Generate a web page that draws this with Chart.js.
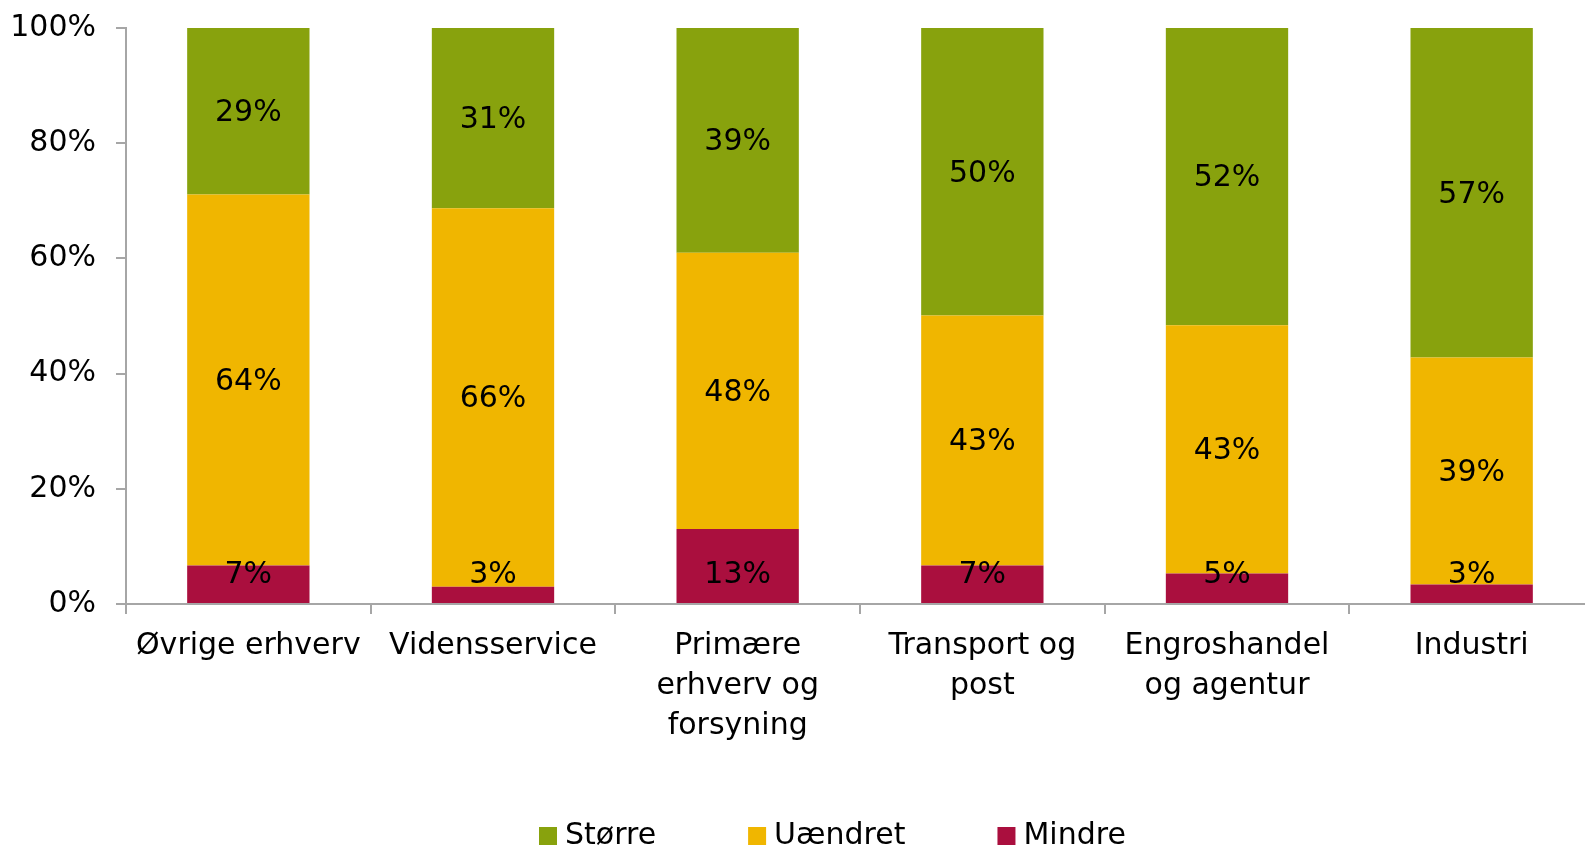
<!DOCTYPE html>
<html>
<head>
<meta charset="utf-8">
<script src="https://cdn.jsdelivr.net/npm/chart.js@4/dist/chart.umd.min.js"></script>
<style>
  html, body { margin: 0; padding: 0; overflow: hidden; background: #fff; }
  #wrap { position: absolute; left: 0; top: 0; width: 1595px; height: 846px; }
</style>
</head>
<body>
<div id="wrap"><canvas id="c"></canvas></div>
<script>
const categories = [
  ['Øvrige erhverv'],
  ['Vidensservice'],
  ['Primære', 'erhverv og', 'forsyning'],
  ['Transport og', 'post'],
  ['Engroshandel', 'og agentur'],
  ['Industri']
];
const mindre   = [6.7, 3.0, 13.0, 6.7, 5.3, 3.4];
const uaendret = [64.4, 65.7, 48.0, 43.4, 43.1, 39.4];
const storre   = [28.9, 31.3, 39.0, 49.9, 51.6, 57.2];
const yTicks = [0, 20, 40, 60, 80, 100];

const seriesNames = ['Mindre', 'Uændret', 'Større'];
const colors = ['#AA0F3E', '#F0B600', '#88A20D'];
const axisGray = '#A6A6A6';
const FONT = '"DejaVu Sans", sans-serif';

Chart.defaults.font.family = FONT;
Chart.defaults.color = '#000';

const segLabels = {
  id: 'segLabels',
  afterDatasetsDraw(chart) {
    const ctx = chart.ctx;
    ctx.save();
    ctx.font = '30px ' + FONT;
    ctx.fillStyle = '#000';
    ctx.textAlign = 'center';
    ctx.textBaseline = 'middle';
    chart.data.datasets.forEach((ds, di) => {
      const meta = chart.getDatasetMeta(di);
      meta.data.forEach((bar, i) => {
        const p = bar.getProps(['x', 'y', 'base'], true);
        let ly = (p.y + p.base) / 2;
        if (ds.labelAtBase) ly = p.base - 30;
        ctx.fillText(Math.round(ds.data[i]) + '%', p.x, ly + 2);
      });
    });
    ctx.restore();
  }
};

const customLegend = {
  id: 'customLegend',
  afterDraw(chart, args, opts) {
    const ctx = chart.ctx;
    ctx.save();
    ctx.font = '30px ' + FONT;
    ctx.textBaseline = 'alphabetic';
    ctx.textAlign = 'left';
    let x = opts.startX;
    const items = chart.data.datasets.slice().reverse();
    items.forEach(ds => {
      ctx.fillStyle = ds.backgroundColor;
      ctx.fillRect(x, opts.boxTop, opts.box, opts.box);
      ctx.fillStyle = '#000';
      const tx = x + opts.box + opts.boxGap;
      ctx.fillText(ds.label, tx, opts.baseline);
      x = tx + ctx.measureText(ds.label).width + opts.itemGap;
    });
    ctx.restore();
  }
};

new Chart(document.getElementById('c'), {
  type: 'bar',
  data: {
    labels: categories,
    datasets: [
      { label: seriesNames[0], data: mindre,   backgroundColor: colors[0], labelAtBase: true },
      { label: seriesNames[1], data: uaendret, backgroundColor: colors[1] },
      { label: seriesNames[2], data: storre,   backgroundColor: colors[2] }
    ]
  },
  options: {
    responsive: true,
    maintainAspectRatio: false,
    animation: false,
    datasets: { bar: { barPercentage: 0.5, categoryPercentage: 1.0, borderWidth: 0 } },
    layout: { padding: { top: 28, left: 0, right: 1, bottom: 98 } },
    plugins: {
      legend: { display: false },
      tooltip: { enabled: false },
      customLegend: { startX: 539, boxTop: 827, box: 18, boxGap: 8, baseline: 844, itemGap: 92 }
    },
    scales: {
      x: {
        stacked: true,
        offset: true,
        afterFit: s => { s.height = 144; s.paddingLeft = 0; s.paddingRight = 0; },
        grid: { display: true, offset: true, drawOnChartArea: false, drawTicks: true, tickLength: 10, color: axisGray, lineWidth: 2 },
        border: { display: true, color: axisGray, width: 2 },
        ticks: { font: { size: 30, lineHeight: 1.3333 }, color: '#000', padding: 12, maxRotation: 0, minRotation: 0, autoSkip: false }
      },
      y: {
        stacked: true,
        min: 0,
        max: 100,
        afterBuildTicks: s => { s.ticks = yTicks.map(v => ({ value: v })); },
        afterFit: s => { s.width = 126; s.paddingTop = 0; s.paddingBottom = 0; },
        grid: { display: true, drawOnChartArea: false, drawTicks: true, tickLength: 10, color: axisGray, lineWidth: 2 },
        border: { display: true, color: axisGray, width: 2 },
        ticks: { font: { size: 30 }, color: '#000', padding: 20, callback: v => v + '%' }
      }
    }
  },
  plugins: [segLabels, customLegend]
});
</script>
</body>
</html>
